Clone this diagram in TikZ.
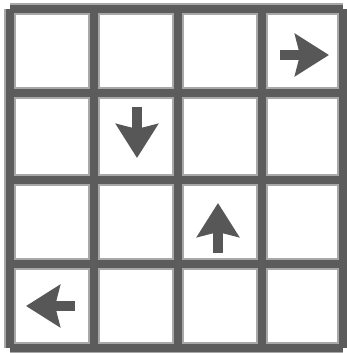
\documentclass[tikz,border=0pt]{standalone}
\usetikzlibrary{arrows.meta}
\definecolor{gridgray}{HTML}{5C5C5C}
\definecolor{gridhalo}{HTML}{A8A8A8}
\definecolor{arrowgray}{HTML}{575757}

\begin{document}
\begin{tikzpicture}[
  x=1pt,
  y=-1pt,
  line join=miter,
  gridhalo/.style={draw=gridhalo,line width=12pt,line cap=square},
  gridline/.style={draw=gridgray,line width=8.5pt,line cap=square},
  move/.style={draw=arrowgray,line width=10pt,
    -{Stealth[length=34pt,width=42pt,inset=5pt]}}
]
  \useasboundingbox (0,0) rectangle (347,353);
  \fill[white] (0,0) rectangle (347,353);

  % Grid lines: columns and rows of the 4x4 board.
  \foreach \x in {10,94,178,262,343} {
    \draw[gridhalo] (\x,9) -- (\x,348);
  }
  \foreach \y in {9,93,180,264,348} {
    \draw[gridhalo] (10,\y) -- (343,\y);
  }
  \foreach \x in {10,94,178,262,343} {
    \draw[gridline] (\x,9) -- (\x,348);
  }
  \foreach \y in {9,93,180,264,348} {
    \draw[gridline] (10,\y) -- (343,\y);
  }

  % Arrow tails and tips in the four marked cells.
  \coordinate (rightS) at (280,55);
  \coordinate (rightT) at (329,55);
  \coordinate (downS) at (137,107);
  \coordinate (downT) at (137,158);
  \coordinate (upS) at (218,253);
  \coordinate (upT) at (218,203);
  \coordinate (leftS) at (75,306);
  \coordinate (leftT) at (26,306);

  \draw[move] (rightS) -- (rightT);
  \draw[move] (downS) -- (downT);
  \draw[move] (upS) -- (upT);
  \draw[move] (leftS) -- (leftT);
\end{tikzpicture}
\end{document}
